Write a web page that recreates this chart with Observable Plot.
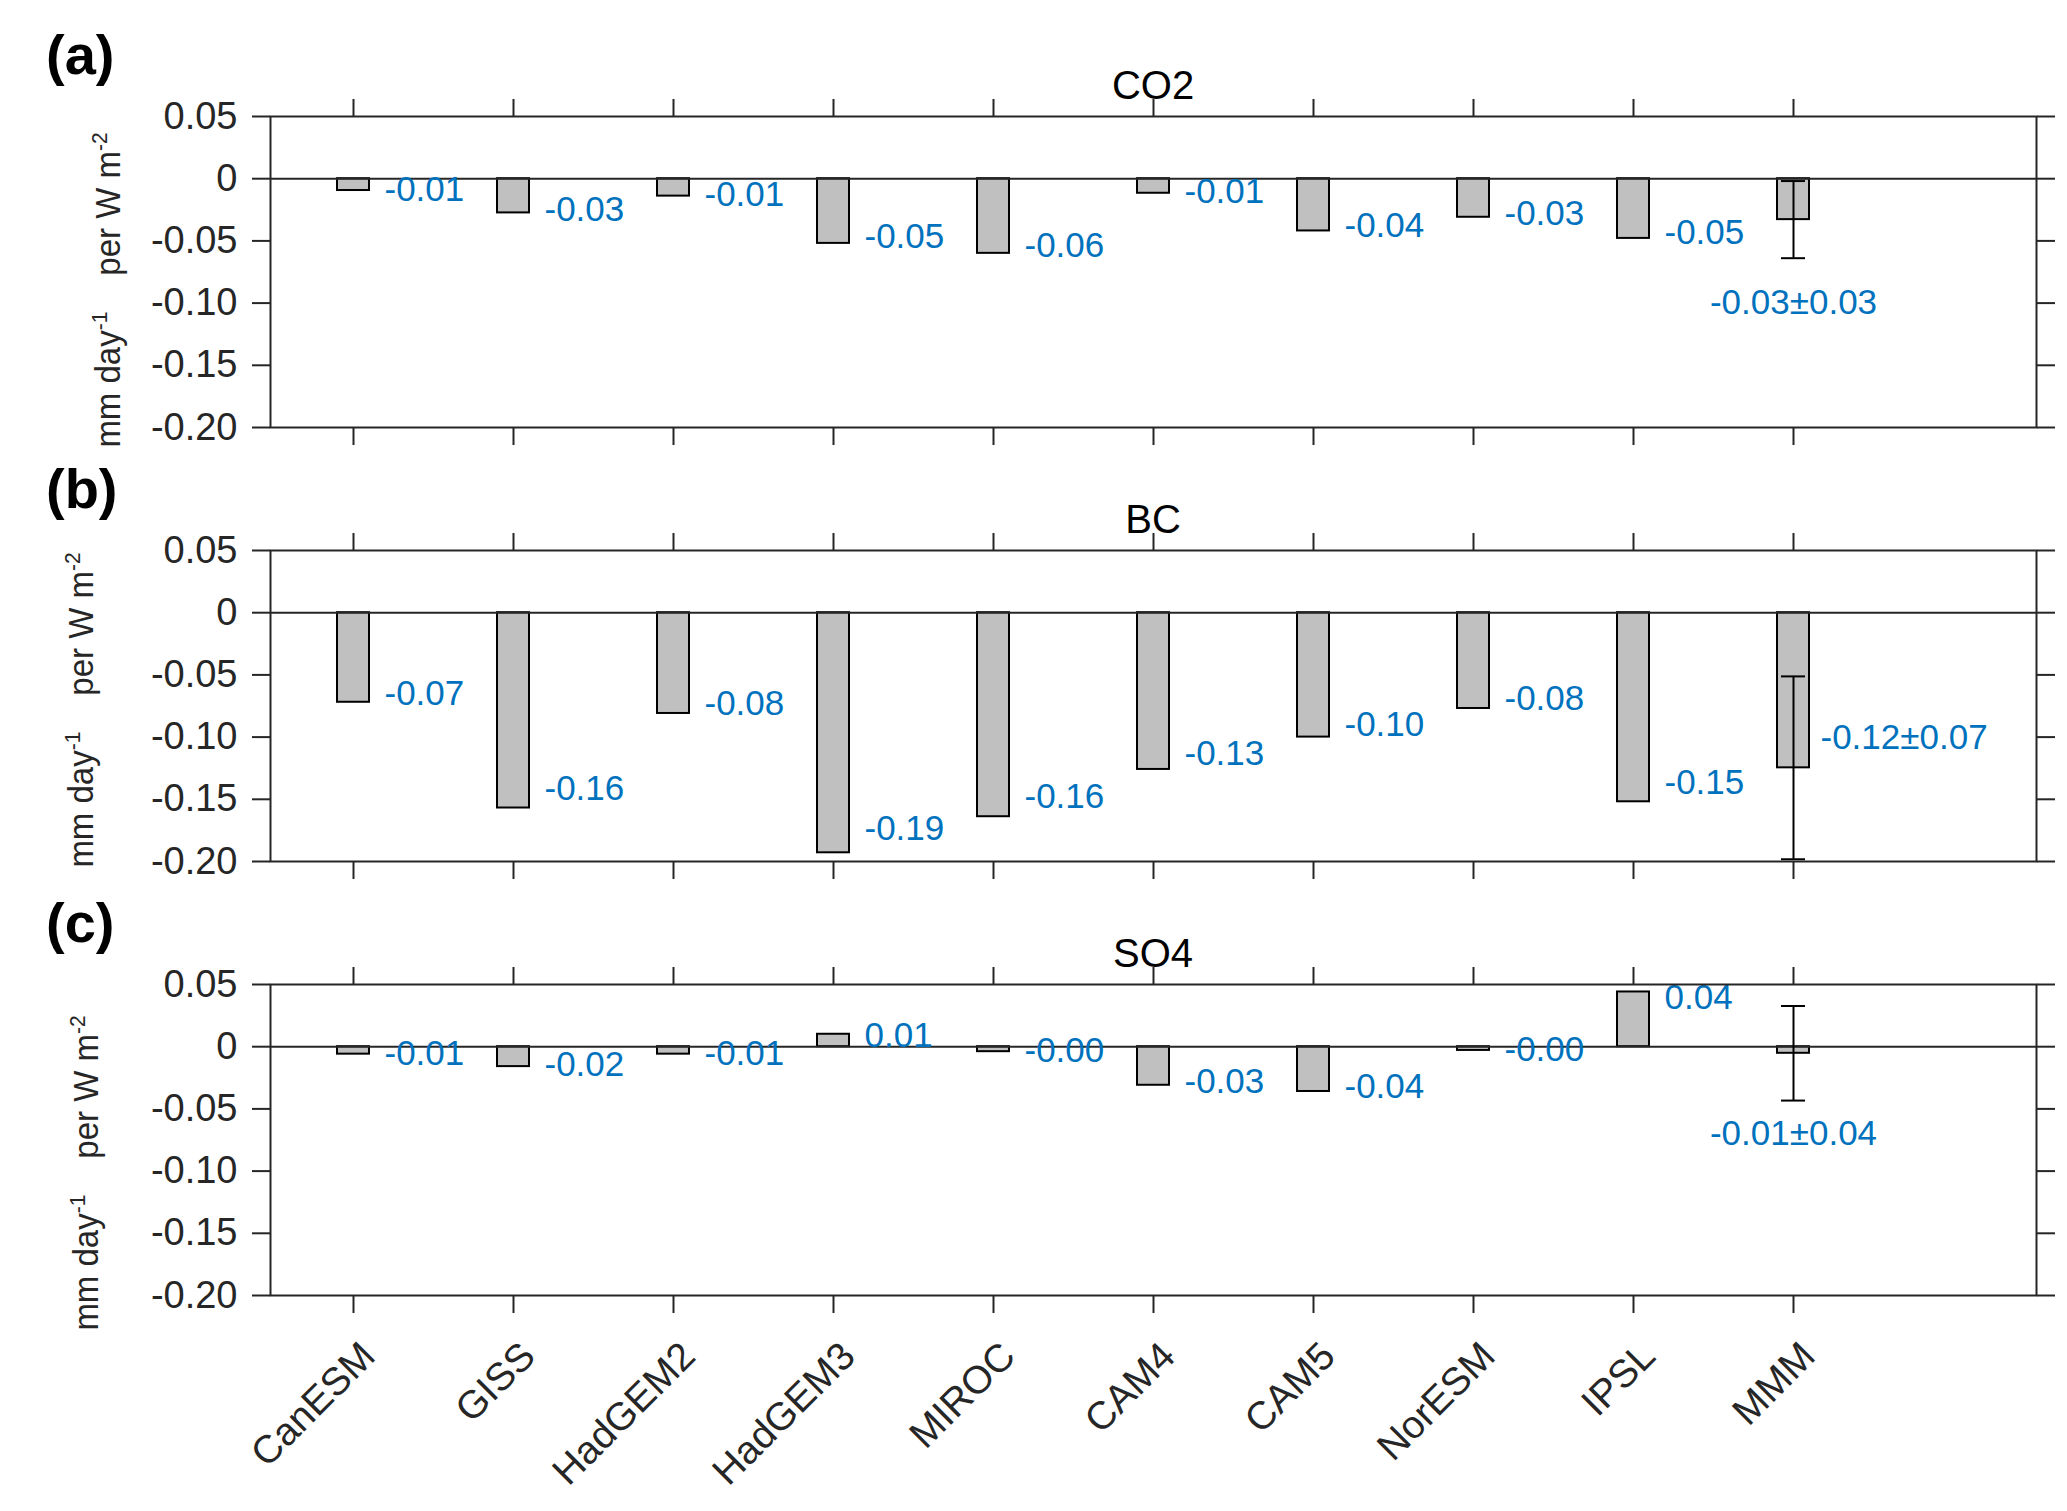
<!DOCTYPE html>
<html><head><meta charset="utf-8">
<script src="https://cdn.jsdelivr.net/npm/d3@7"></script>
<script src="https://cdn.jsdelivr.net/npm/@observablehq/plot@0.6"></script>
<style>
html,body{margin:0;padding:0;background:#fff;}
#chart{position:relative;width:2067px;height:1511px;overflow:hidden;background:#fff;}
#chart svg{position:absolute;left:0;overflow:visible;background:transparent;}
</style></head><body><div id="chart"></div>
<script>
const models = ["CanESM","GISS","HadGEM2","HadGEM3","MIROC","CAM4","CAM5","NorESM","IPSL","MMM"];

const co2Values = [-0.0095,-0.0275,-0.0140,-0.0520,-0.0600,-0.0117,-0.0420,-0.0310,-0.0480,-0.0329];
const co2Labels = ["-0.01","-0.03","-0.01","-0.05","-0.06","-0.01","-0.04","-0.03","-0.05","-0.03±0.03"];
const co2Sd = 0.031;

const bcValues = [-0.072,-0.157,-0.081,-0.193,-0.164,-0.126,-0.100,-0.077,-0.152,-0.1247];
const bcLabels = ["-0.07","-0.16","-0.08","-0.19","-0.16","-0.13","-0.10","-0.08","-0.15","-0.12±0.07"];
const bcSd = 0.0735;

const so4Values = [-0.006,-0.016,-0.006,0.010,-0.004,-0.031,-0.036,-0.003,0.044,-0.0053];
const so4Labels = ["-0.01","-0.02","-0.01","0.01","-0.00","-0.03","-0.04","-0.00","0.04","-0.01±0.04"];
const so4Sd = 0.038;

const yTicks = [0.05, 0, -0.05, -0.10, -0.15, -0.20];
const yFmt = d => d === 0 ? "0" : d.toFixed(2);

const panels = [
  {letter:"(a)", title:"CO2", values:co2Values, labels:co2Labels, sd:co2Sd, top:0,
   mmm:{at:"lo", anchor:"middle", dx:0, dy:45}, ylab:{x:120, cy:290}, xLabels:false},
  {letter:"(b)", title:"BC", values:bcValues, labels:bcLabels, sd:bcSd, top:434,
   mmm:{at:"v", anchor:"start", dx:27, dy:-30}, ylab:{x:93, cy:276}, xLabels:false},
  {letter:"(c)", title:"SO4", values:so4Values, labels:so4Labels, sd:so4Sd, top:868,
   mmm:{at:"lo", anchor:"middle", dx:0, dy:33}, ylab:{x:98, cy:305}, xLabels:true}
];

const ML = 270, MR = 2067 - 2036, MT = 116, FH = 311;
const blue = "#0072BD", axisCol = "#262626";
const chart = document.getElementById("chart");

for (const cfg of panels) {
  const data = models.map((m, i) => ({model: m, v: cfg.values[i], label: cfg.labels[i]}));
  const singles = data.filter(d => d.model !== "MMM");
  const err = data.filter(d => d.model === "MMM").map(d => ({...d, lo: d.v - cfg.sd, hi: d.v + cfg.sd}));
  const height = cfg.xLabels ? 1511 - cfg.top : 460;
  const marks = [
    Plot.barY(data, {x: "model", y: "v", fill: "#c0c0c0", stroke: "#000", strokeWidth: 2, insetLeft: 64, insetRight: 64}),
    Plot.ruleY([0], {stroke: axisCol, strokeWidth: 2}),
    Plot.ruleX(err, {x: "model", y1: "lo", y2: "hi", stroke: "#000", strokeWidth: 2}),
    Plot.tickY(err, {x: "model", y: "lo", stroke: "#000", strokeWidth: 2, insetLeft: 68, insetRight: 68}),
    Plot.tickY(err, {x: "model", y: "hi", stroke: "#000", strokeWidth: 2, insetLeft: 68, insetRight: 68}),
    Plot.text(singles, {x: "model", y: d => d.v * 0.9, text: "label", textAnchor: "start", dx: 31,
      fill: blue, fontSize: 35, fontFamily: "Liberation Sans"}),
    Plot.text(err, {x: "model", y: cfg.mmm.at, text: "label", textAnchor: cfg.mmm.anchor,
      dx: cfg.mmm.dx, dy: cfg.mmm.dy, fill: blue, fontSize: 35, fontFamily: "Liberation Sans"}),
    Plot.frame({stroke: axisCol, strokeWidth: 2}),
    Plot.axisY({anchor: "left", ticks: yTicks, tickSize: 18, tickPadding: 15, tickFormat: yFmt,
      fontSize: 38, strokeWidth: 2, fill: axisCol, label: null}),
    Plot.axisY({anchor: "right", ticks: yTicks, tickSize: 18, tickFormat: () => "", strokeWidth: 2, label: null}),
    Plot.axisX({anchor: "top", ticks: models, tickSize: 18, tickFormat: () => "", strokeWidth: 2, label: null}),
    Plot.axisX({anchor: "bottom", ticks: models, tickSize: 18, tickFormat: () => "", strokeWidth: 2, label: null})
  ];
  if (cfg.xLabels) {
    marks.push(Plot.axisX({anchor: "bottom", ticks: models, tickSize: 0, tickPadding: 54, tickRotate: -45,
      textAnchor: "end", lineAnchor: "middle", dx: 15, fontSize: 39, fill: axisCol, label: null}));
  }
  const svg = Plot.plot({
    width: 2067, height,
    marginLeft: ML, marginRight: MR, marginTop: MT, marginBottom: height - MT - FH,
    style: {fontFamily: "Liberation Sans, Arial, sans-serif", color: axisCol, background: "transparent", overflow: "visible"},
    x: {type: "band", domain: [...models, ""], padding: 0, label: null},
    y: {domain: [-0.20, 0.05], label: null},
    marks
  });
  svg.style.top = cfg.top + "px";
  chart.appendChild(svg);

  const s = d3.select(svg);
  const ff = "Liberation Sans, Arial, sans-serif";
  // panel letter
  s.append("text").attr("x", 46).attr("y", 74).attr("text-anchor", "start").attr("font-size", 56)
    .attr("font-weight", "bold").attr("font-family", ff).attr("fill", "#000").text(cfg.letter);
  // title
  s.append("text").attr("x", (ML + 2036) / 2).attr("y", 99).attr("text-anchor", "middle")
    .attr("font-size", 40).attr("font-family", ff).attr("fill", "#000").text(cfg.title);
  // y label
  const t = s.append("text")
    .attr("transform", `translate(${cfg.ylab.x},${cfg.ylab.cy}) rotate(-90) scale(1,1.08)`)
    .attr("text-anchor", "middle").attr("font-size", 33)
    .attr("font-family", ff).attr("fill", axisCol);
  t.append("tspan").text("mm day");
  t.append("tspan").attr("dy", -12).attr("font-size", 21).text("-1");
  t.append("tspan").attr("dy", 12).attr("dx", 36).text("per W m");
  t.append("tspan").attr("dy", -12).attr("font-size", 21).text("-2");
}
</script></body></html>
